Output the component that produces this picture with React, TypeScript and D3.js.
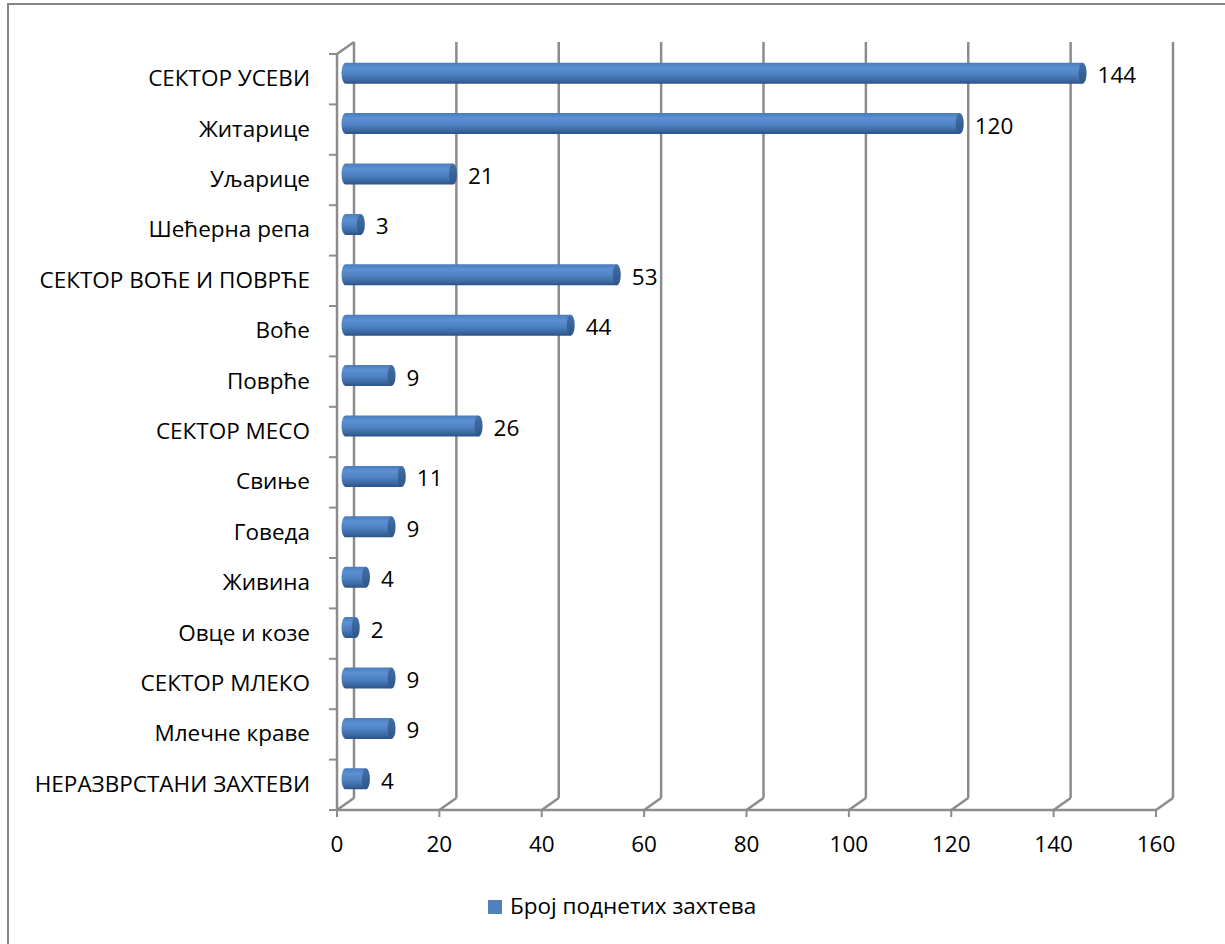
import React from "react";
import * as d3 from "d3";

const categories = [
  "СЕКТОР УСЕВИ",
  "Житарице",
  "Уљарице",
  "Шећерна репа",
  "СЕКТОР ВОЋЕ И ПОВРЋЕ",
  "Воће",
  "Поврће",
  "СЕКТОР МЕСО",
  "Свиње",
  "Говеда",
  "Живина",
  "Овце и козе",
  "СЕКТОР МЛЕКО",
  "Млечне краве",
  "НЕРАЗВРСТАНИ ЗАХТЕВИ",
];
const values = [144, 120, 21, 3, 53, 44, 9, 26, 11, 9, 4, 2, 9, 9, 4];
const xTicks = [0, 20, 40, 60, 80, 100, 120, 140, 160];
const seriesName = "Број поднетих захтева";

const FONT = "'Open Sans', 'Liberation Sans', Arial, sans-serif";
const FS = 22.5;

export default function App() {
  const W = 1225;
  const H = 944;
  const left = 337;
  const right = 1156;
  const top = 54;
  const bottom = 810;
  const dx = 17;
  const dy = -12;
  const x = d3.scaleLinear().domain([0, 160]).range([left, right]);
  const y = d3.scaleBand<string>().domain(categories).range([top, bottom]).padding(0);
  const barH = 21;
  const rx = 4;
  const grid = "#8c8c8c";
  const band = y.bandwidth();

  return (
    <svg width={W} height={H} style={{ position: "absolute", left: 0, top: 0 }}>
      <defs>
        <linearGradient id="cyl" x1="0" y1="0" x2="0" y2="1">
          <stop offset="0" stopColor="#4a7cbc" />
          <stop offset="0.25" stopColor="#5b90d4" />
          <stop offset="0.55" stopColor="#4f82c2" />
          <stop offset="0.85" stopColor="#3a669f" />
          <stop offset="1" stopColor="#2c5184" />
        </linearGradient>
        <linearGradient id="cap" x1="0" y1="0" x2="0" y2="1">
          <stop offset="0" stopColor="#4270a8" />
          <stop offset="1" stopColor="#2f5688" />
        </linearGradient>
      </defs>
      <rect x={0} y={0} width={W} height={H} fill="#fff" />
      <rect x={8} y={4} width={W + 20} height={H + 20} fill="none" stroke="#868686" strokeWidth={2} />

      {xTicks.map((t) => (
        <line key={"g" + t} x1={x(t) + dx} x2={x(t) + dx} y1={top + dy} y2={bottom + dy} stroke={grid} strokeWidth={2.5} />
      ))}
      {xTicks.map((t) => (
        <line key={"d" + t} x1={x(t)} x2={x(t) + dx} y1={bottom} y2={bottom + dy} stroke={grid} strokeWidth={2.5} />
      ))}
      <line x1={left} x2={right} y1={bottom} y2={bottom} stroke={grid} strokeWidth={2.5} />
      {xTicks.map((t) => (
        <line key={"t" + t} x1={x(t)} x2={x(t)} y1={bottom} y2={bottom + 7} stroke={grid} strokeWidth={2} />
      ))}
      <line x1={left} x2={left} y1={top} y2={bottom} stroke={grid} strokeWidth={2.5} />
      <line x1={left} x2={left + dx} y1={top} y2={top + dy} stroke={grid} strokeWidth={2.5} />
      {d3.range(categories.length + 1).map((i) => {
        const yy = top + i * band;
        return <line key={"lt" + i} x1={left - 8} x2={left} y1={yy} y2={yy} stroke={grid} strokeWidth={2} />;
      })}

      {categories.map((c, i) => {
        const cy = (y(c) as number) + band / 2 + dy / 2;
        const x0 = x(0) + dx / 2;
        const x1 = x(values[i]) + dx / 2;
        const t = cy - barH / 2;
        const b = cy + barH / 2;
        const path = `M${x1},${t} L${x0},${t} A${rx},${barH / 2} 0 0 0 ${x0},${b} L${x1},${b} Z`;
        return (
          <g key={"b" + i}>
            <path d={path} fill="url(#cyl)" />
            <ellipse cx={x1} cy={cy} rx={rx} ry={barH / 2} fill="url(#cap)" />
            <text x={x1 + rx + 11} y={cy + 4} dominantBaseline="middle" fontFamily={FONT} fontSize={FS} fill="#000">
              {values[i]}
            </text>
          </g>
        );
      })}

      {categories.map((c) => (
        <text key={"c" + c} x={310} y={(y(c) as number) + band / 2 + 1} dominantBaseline="middle" textAnchor="end" fontFamily={FONT} fontSize={FS} fill="#000">
          {c}
        </text>
      ))}

      {xTicks.map((t) => (
        <text key={"xl" + t} x={x(t)} y={846} dominantBaseline="middle" textAnchor="middle" fontFamily={FONT} fontSize={FS} fill="#000">
          {t}
        </text>
      ))}

      <rect x={488} y={900} width={14} height={14} fill="#4f81bd" />
      <text x={510} y={908} dominantBaseline="middle" fontFamily={FONT} fontSize={FS} fill="#000">
        {seriesName}
      </text>
    </svg>
  );
}
